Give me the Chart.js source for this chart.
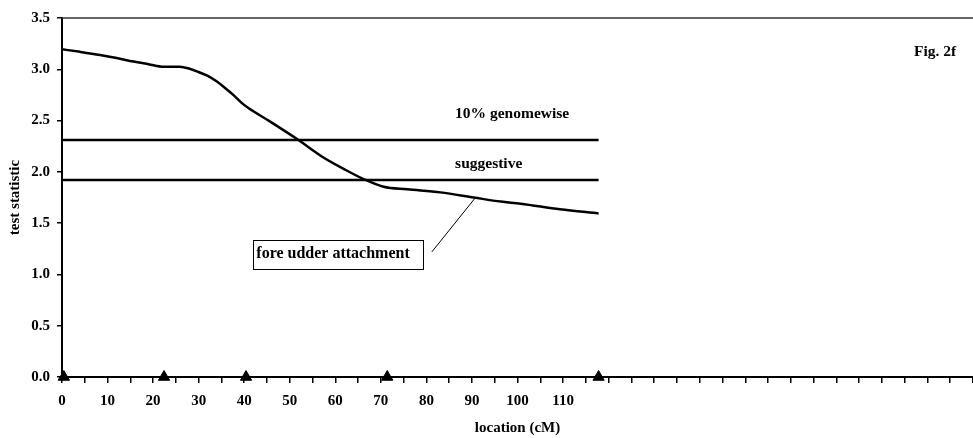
<!DOCTYPE html>
<html>
<head>
<meta charset="utf-8">
<script src="https://cdn.jsdelivr.net/npm/chart.js@4.4.1/dist/chart.umd.min.js"></script>
<style>
  html, body { margin: 0; padding: 0; background: #ffffff; overflow: hidden; }
  canvas { display: block; }
</style>
</head>
<body>
<canvas id="c" width="973" height="438" style="width:973px;height:438px"></canvas>
<script>
// ---- data ----
const locations = [0, 4, 8.35, 12, 15.7, 19, 22.3, 25.9, 28, 29.6, 32, 34, 36, 37.6, 39.5, 41, 45.7, 51.6, 57.4, 61.8, 66.2, 70.6, 75.8, 83.1, 90.4, 96.3, 100.7, 109.3, 117.8];
const testStatistic = [3.195, 3.17, 3.14, 3.11, 3.075, 3.05, 3.025, 3.025, 3.005, 2.98, 2.935, 2.88, 2.81, 2.75, 2.67, 2.62, 2.49, 2.32, 2.14, 2.03, 1.93, 1.855, 1.83, 1.80, 1.75, 1.71, 1.69, 1.635, 1.595];
const markerLocations = [0.4, 22.4, 40.4, 71.4, 117.8];
const thresholdStart = 0;
const thresholdEnd = 117.8;
const genomewise10 = 2.31;
const suggestiveLevel = 1.92;
const xMin = 0, xMax = 200, xStep = 5, xLabelStep = 10, xLabelMax = 110;
const yMin = 0, yMax = 3.5, yStep = 0.5;

// annotation texts (positions in data units)
const labelGenomewise = { text: '10% genomewise', x: 86.3, y: 2.56 };
const labelSuggestive = { text: 'suggestive', x: 86.3, y: 2.08 };
const labelFigure = { text: 'Fig. 2f', x: 191.7, y: 3.17 };
const traitBox = { text: 'fore udder attachment', x1: 42.0, x2: 79.3, y1: 1.336, y2: 1.053 };
const leader = { x1: 81.2, y1: 1.22, x2: 90.7, y2: 1.745 };

const FONT = "'Liberation Serif', 'Times New Roman', serif";

const annotationPlugin = {
  id: 'annotations',
  afterDatasetsDraw(chart) {
    const { ctx, chartArea, scales } = chart;
    const xs = scales.x, ys = scales.y;
    ctx.save();
    // top frame line
    ctx.strokeStyle = '#333333';
    ctx.lineWidth = 1.5;
    ctx.beginPath();
    ctx.moveTo(chartArea.left, chartArea.top);
    ctx.lineTo(chartArea.right, chartArea.top);
    ctx.stroke();

    ctx.fillStyle = '#000';
    ctx.font = 'bold 15.5px ' + FONT;
    ctx.textBaseline = 'middle';
    ctx.textAlign = 'left';
    [labelGenomewise, labelSuggestive].forEach(l => {
      ctx.fillText(l.text, xs.getPixelForValue(l.x), ys.getPixelForValue(l.y));
    });
    ctx.textAlign = 'center';
    ctx.fillText(labelFigure.text, xs.getPixelForValue(labelFigure.x), ys.getPixelForValue(labelFigure.y));

    // box
    const bx1 = xs.getPixelForValue(traitBox.x1), bx2 = xs.getPixelForValue(traitBox.x2);
    const by1 = ys.getPixelForValue(traitBox.y1), by2 = ys.getPixelForValue(traitBox.y2);
    ctx.fillStyle = '#fff';
    ctx.fillRect(bx1, by1, bx2 - bx1, by2 - by1);
    ctx.strokeStyle = '#000';
    ctx.lineWidth = 1;
    ctx.strokeRect(Math.round(bx1) + 0.5, Math.round(by1) + 0.5, Math.round(bx2 - bx1), Math.round(by2 - by1));
    ctx.fillStyle = '#000';
    ctx.textAlign = 'left';
    ctx.font = 'bold 16px ' + FONT;
    ctx.fillText(traitBox.text, bx1 + 3, (by1 + by2) / 2 - 1);

    // leader line
    ctx.beginPath();
    ctx.moveTo(xs.getPixelForValue(leader.x1), ys.getPixelForValue(leader.y1));
    ctx.lineTo(xs.getPixelForValue(leader.x2), ys.getPixelForValue(leader.y2));
    ctx.lineWidth = 1;
    ctx.stroke();
    ctx.restore();
  }
};

const curve = locations.map((x, i) => ({ x, y: testStatistic[i] }));

new Chart(document.getElementById('c'), {
  type: 'scatter',
  data: {
    datasets: [
      {
        label: 'fore udder attachment',
        data: curve,
        showLine: true,
        borderColor: '#000',
        borderWidth: 2.5,
        pointRadius: 0,
        cubicInterpolationMode: 'monotone'
      },
      {
        label: '10% genomewise',
        data: [{ x: thresholdStart, y: genomewise10 }, { x: thresholdEnd, y: genomewise10 }],
        showLine: true,
        borderColor: '#000',
        borderWidth: 2.5,
        pointRadius: 0
      },
      {
        label: 'suggestive',
        data: [{ x: thresholdStart, y: suggestiveLevel }, { x: thresholdEnd, y: suggestiveLevel }],
        showLine: true,
        borderColor: '#000',
        borderWidth: 2.5,
        pointRadius: 0
      },
      {
        label: 'markers',
        data: markerLocations.map(x => ({ x, y: 0 })),
        showLine: false,
        pointStyle: 'triangle',
        pointRadius: 6.5,
        backgroundColor: '#000',
        borderColor: '#000',
        borderWidth: 1,
        clip: false
      }
    ]
  },
  options: {
    responsive: false,
    maintainAspectRatio: false,
    animation: false,
    events: [],
    layout: { autoPadding: false, padding: { top: 18, right: 0, bottom: 0, left: 0 } },
    plugins: { legend: { display: false }, tooltip: { enabled: false } },
    scales: {
      x: {
        type: 'linear',
        min: xMin, max: xMax,
        afterFit(scale) { scale.height = 61; scale.paddingRight = 0; },
        afterBuildTicks(scale) {
          const t = [];
          for (let v = xMin; v <= xMax + 1e-9; v += xStep) t.push({ value: v });
          scale.ticks = t;
        },
        ticks: {
          autoSkip: false,
          maxRotation: 0,
          padding: 9,
          color: '#000',
          font: { family: FONT, size: 15, weight: 'bold' },
          callback(v) {
            const r = Math.round(v);
            return (r % xLabelStep === 0 && r <= xLabelMax) ? String(r) : '';
          }
        },
        grid: { drawOnChartArea: false, drawTicks: true, tickLength: 6, color: '#000', lineWidth: 1.5 },
        border: { display: true, color: '#000', width: 2 },
        title: { display: true, text: 'location (cM)', color: '#000', font: { family: FONT, size: 15, weight: 'bold' }, padding: { top: 0, bottom: 1 } }
      },
      y: {
        type: 'linear',
        min: yMin, max: yMax,
        afterFit(scale) { scale.width = 62; },
        ticks: {
          stepSize: yStep,
          padding: 7,
          color: '#000',
          font: { family: FONT, size: 15, weight: 'bold' },
          callback(v) { return Number(v).toFixed(1); }
        },
        grid: { drawOnChartArea: false, drawTicks: true, tickLength: 5, color: '#000', lineWidth: 1.5 },
        border: { display: true, color: '#000', width: 2 },
        title: { display: true, text: 'test statistic', color: '#000', font: { family: FONT, size: 15, weight: 'bold' }, padding: { top: 6, bottom: 0 } }
      }
    }
  },
  plugins: [annotationPlugin]
});
</script>
</body>
</html>
